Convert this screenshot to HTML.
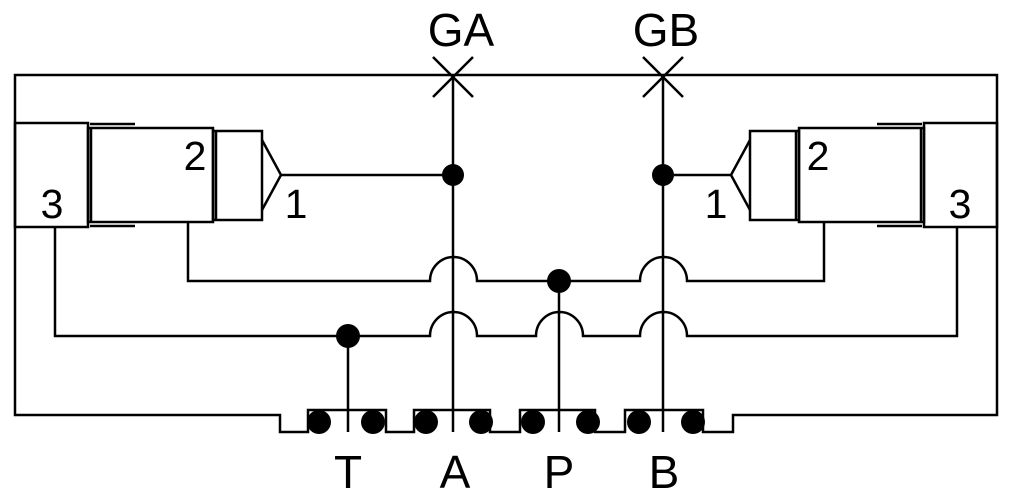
<!DOCTYPE html>
<html><head><style>html,body{margin:0;padding:0;background:#fff}svg{display:block}</style></head>
<body>
<svg width="1015" height="501" viewBox="0 0 1015 501" xmlns="http://www.w3.org/2000/svg">
<g fill="none" stroke="#000" stroke-width="2.5">
<path d="M280 415 H15 V75 H997 V415 H733 V432 H703 V410 H625 V432 H595 V410 H520 V432 H490 V410 H414 V432 H386 V410 H308 V432 H280 Z"/>
<path d="M433 57 L473 97 M473 57 L433 97"/>
<path d="M643 57 L683 97 M683 57 L643 97"/>
<path d="M453 77 V432 M663 77 V432 M348 336 V432 M559 281 V432"/>
<g id="cyl">
<rect x="15" y="123" width="73" height="104"/>
<rect x="88" y="128" width="125" height="94"/>
<path d="M91 128 V222 M90 124 H135 M90 226 H135"/>
<rect x="213" y="131" width="49" height="89"/>
<path d="M216 131 V220 M262 140 L281 175 L262 210"/>
</g>
<use href="#cyl" transform="translate(1012,0) scale(-1,1)"/>
<path d="M281 175 H453 M731 175 H663"/>
<path d="M188 222 V281 H430 A23.5 24 0 0 1 477 281 H640 A23.5 24 0 0 1 687 281 H824 V222"/>
<path d="M55 227 V336 H430 A23.5 24 0 0 1 477 336 H536 A23.5 24 0 0 1 583 336 H640 A23.5 24 0 0 1 687 336 H957 V227"/>
</g>
<g fill="#000">
<circle cx="453" cy="175" r="11"/><circle cx="663" cy="175" r="11"/>
<circle cx="559" cy="281" r="12"/><circle cx="348" cy="336" r="12"/>
<circle cx="319" cy="422" r="12"/><circle cx="373" cy="422" r="12"/>
<circle cx="426" cy="422" r="12"/><circle cx="481" cy="422" r="12"/>
<circle cx="533" cy="422" r="12"/><circle cx="588" cy="422" r="12"/>
<circle cx="639" cy="422" r="12"/><circle cx="693" cy="422" r="12"/>
</g>
<g font-family="Liberation Sans, sans-serif" font-size="46" text-anchor="middle" fill="#000">
<text x="461" y="46">GA</text>
<text x="666" y="46">GB</text>
<text x="348" y="488">T</text>
<text x="455" y="488">A</text>
<text x="559" y="488">P</text>
<text x="664" y="488">B</text>
</g>
<g font-family="Liberation Sans, sans-serif" font-size="41" text-anchor="middle" fill="#000">
<text x="195" y="170">2</text>
<text x="52" y="218">3</text>
<text x="296" y="218">1</text>
<text x="818" y="170">2</text>
<text x="960" y="218">3</text>
<text x="716" y="218">1</text>
</g>
</svg>
</body></html>
